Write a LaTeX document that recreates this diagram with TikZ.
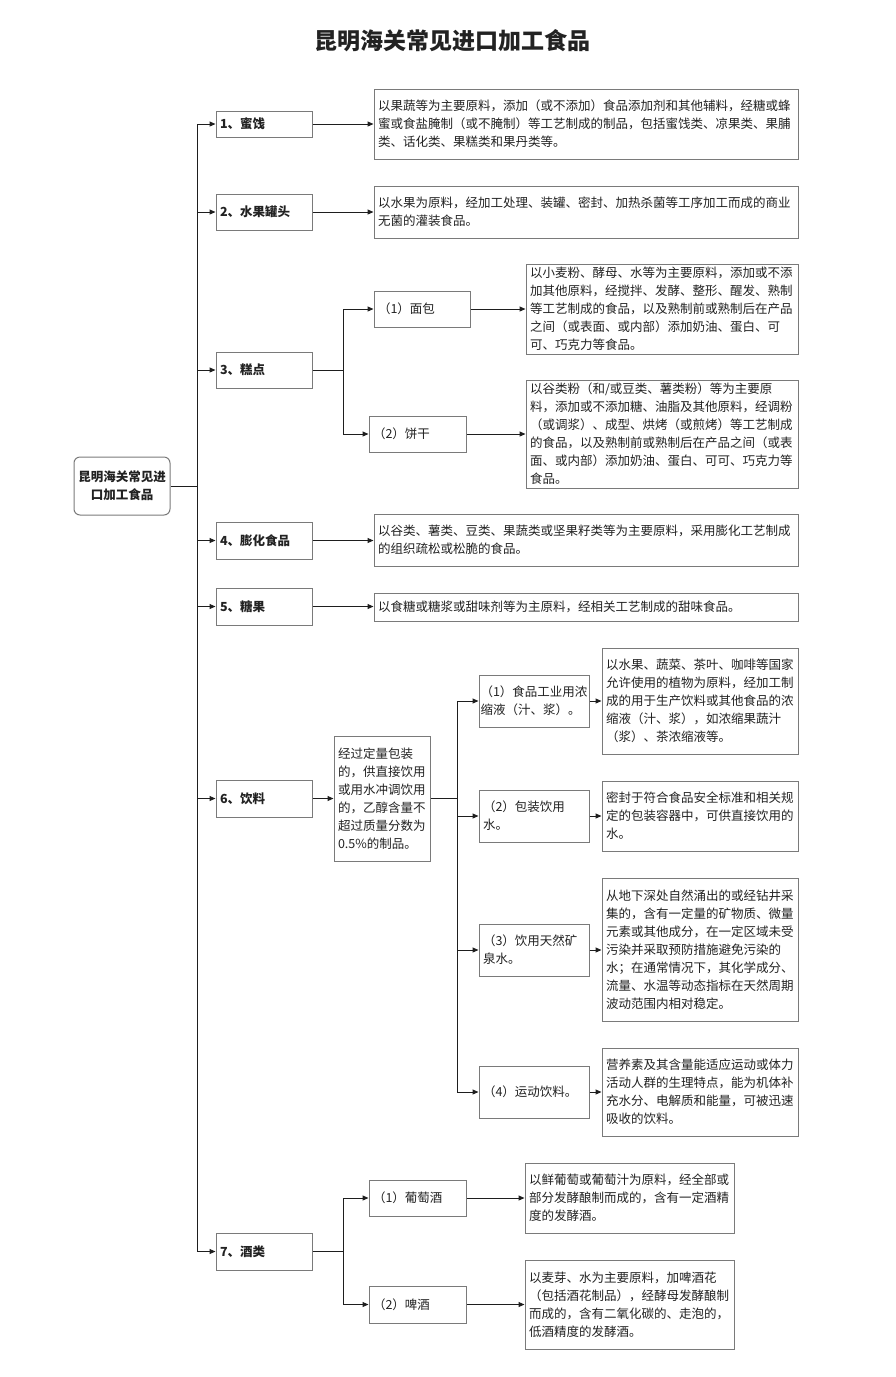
\documentclass[tikz,border=0pt]{standalone}
\usepackage{fontspec}
\setmainfont{Noto Sans CJK SC}
\usetikzlibrary{arrows.meta,calc}
\definecolor{bordergray}{HTML}{7A7A7A}
\definecolor{linecol}{HTML}{1E1E1E}
\definecolor{txtcol}{HTML}{222222}
\newcommand\placebox[7]{%
  \pgfmathsetmacro\bxw{#4-#2}%
  \pgfmathsetmacro\bxh{#5-#3}%
  \pgfmathsetmacro\bxtw{#4-#2-8}%
  \node[#6, minimum width=\bxw pt, minimum height=\bxh pt, text width=\bxtw pt]
    (#1) at ({(#2+#4)/2},{(#3+#5)/2}) {#7};}
\tikzset{
  basebox/.style={draw=bordergray, line width=1pt, inner xsep=4pt, inner ysep=0pt,
    align=left, text=txtcol, font=\fontsize{12.5}{18}\selectfont},
  labelbox/.style={basebox, font=\fontsize{12.5}{18}\selectfont\bfseries},
  descbox/.style={basebox},
  subbox/.style={basebox},
  subboxn/.style={basebox, inner xsep=3pt},
  rootbox/.style={draw=bordergray, line width=1pt, rounded corners=6pt, align=center,
    text=txtcol, font=\fontsize{12.5}{18}\selectfont\bfseries, inner sep=0pt},
  conn/.style={draw=linecol, line width=1pt},
  arr/.style={conn, -{Triangle[length=6pt,width=5pt]}}
}
\begin{document}
\begin{tikzpicture}[x=1pt,y=-1pt]
\useasboundingbox[fill=white] (0,0) rectangle (895,1377);

\node[font=\fontsize{23}{26}\selectfont\bfseries, text=txtcol] (title) at (452,41) {昆明海关常见进口加工食品};

% root
\node[rootbox, minimum width=96pt, minimum height=58pt] (root) at (122,486) {昆明海关常见进\\口加工食品};

% level-1 boxes
\placebox{b1}{216}{111}{312}{137}{labelbox}{1、蜜饯}
\placebox{b2}{216}{194}{312}{230}{labelbox}{2、水果罐头}
\placebox{b3}{216}{352}{312}{388}{labelbox}{3、糕点}
\placebox{b4}{216}{522}{312}{559}{labelbox}{4、膨化食品}
\placebox{b5}{216}{588}{312}{625}{labelbox}{5、糖果}
\placebox{b6}{216}{780}{312}{817}{labelbox}{6、饮料}
\placebox{b7}{216}{1233}{312}{1270}{labelbox}{7、酒类}

% descriptions
\placebox{d1}{374}{89}{798}{159}{descbox}{以果蔬等为主要原料，添加（或不添加）食品添加剂和其他辅料，经糖或蜂\\蜜或食盐腌制（或不腌制）等工艺制成的制品，包括蜜饯类、凉果类、果脯\\类、话化类、果糕类和果丹类等。}
\placebox{d2}{374}{186}{798}{238}{descbox}{以水果为原料，经加工处理、装罐、密封、加热杀菌等工序加工而成的商业\\无菌的灌装食品。}
\placebox{d4}{374}{514}{798}{566}{descbox}{以谷类、薯类、豆类、果蔬类或坚果籽类等为主要原料，采用膨化工艺制成\\的组织疏松或松脆的食品。}
\placebox{d5}{374}{593}{798}{621}{descbox}{以食糖或糖浆或甜味剂等为主原料，经相关工艺制成的甜味食品。}

% 3 sub
\placebox{m1}{374}{291}{470}{327}{subbox}{（1）面包}
\placebox{m2}{369}{416}{466}{452}{subbox}{（2）饼干}
\placebox{md1}{526}{264}{798}{354}{descbox}{以小麦粉、酵母、水等为主要原料，添加或不添\\加其他原料，经搅拌、发酵、整形、醒发、熟制\\等工艺制成的食品，以及熟制前或熟制后在产品\\之间（或表面、或内部）添加奶油、蛋白、可\\可、巧克力等食品。}
\placebox{md2}{526}{380}{798}{488}{descbox}{以谷类粉（和/或豆类、薯类粉）等为主要原\\料，添加或不添加糖、油脂及其他原料，经调粉\\（或调浆）、成型、烘烤（或煎烤）等工艺制成\\的食品，以及熟制前或熟制后在产品之间（或表\\面、或内部）添加奶油、蛋白、可可、巧克力等\\食品。}

% 6 sub
\placebox{d6}{334}{736}{430}{861}{descbox}{经过定量包装\\的，供直接饮用\\或用水冲调饮用\\的，乙醇含量不\\超过质量分数为\\0.5\%的制品。}
\node[basebox, inner xsep=1.5pt, minimum width=110pt, minimum height=52pt, text width=107pt]
  (s1) at (534,701) {（1）食品工业用浓\\缩液（汁、浆）。};
\placebox{s2}{479}{790}{589}{842}{subboxn}{（2）包装饮用\\水。}
\placebox{s3}{479}{924}{589}{976}{subboxn}{（3）饮用天然矿\\泉水。}
\placebox{s4}{479}{1066}{589}{1118}{subboxn}{（4）运动饮料。}
\placebox{e1}{602}{648}{798}{754}{descbox}{以水果、蔬菜、茶叶、咖啡等国家\\允许使用的植物为原料，经加工制\\成的用于生产饮料或其他食品的浓\\缩液（汁、浆），如浓缩果蔬汁\\（浆）、茶浓缩液等。}
\placebox{e2}{602}{781}{798}{851}{descbox}{密封于符合食品安全标准和相关规\\定的包装容器中，可供直接饮用的\\水。}
\placebox{e3}{602}{878}{798}{1021}{descbox}{从地下深处自然涌出的或经钻井采\\集的，含有一定量的矿物质、微量\\元素或其他成分，在一定区域未受\\污染并采取预防措施避免污染的\\水；在通常情况下，其化学成分、\\流量、水温等动态指标在天然周期\\波动范围内相对稳定。}
\placebox{e4}{602}{1048}{798}{1136}{descbox}{营养素及其含量能适应运动或体力\\活动人群的生理特点，能为机体补\\充水分、电解质和能量，可被迅速\\吸收的饮料。}

% 7 sub
\placebox{w1}{369}{1180}{466}{1216}{subbox}{（1）葡萄酒}
\placebox{w2}{369}{1286}{466}{1323}{subbox}{（2）啤酒}
\placebox{wd1}{525}{1163}{734}{1233}{descbox}{以鲜葡萄或葡萄汁为原料，经全部或\\部分发酵酿制而成的，含有一定酒精\\度的发酵酒。}
\placebox{wd2}{525}{1260}{734}{1349}{descbox}{以麦芽、水为主要原料，加啤酒花\\（包括酒花制品），经酵母发酵酿制\\而成的，含有二氧化碳的、走泡的，\\低酒精度的发酵酒。}

% split coordinates (x positions of the vertical bars)
\coordinate (trunk) at (197,486);
\coordinate (sp3) at (343,0);
\coordinate (sp6) at (457,0);
\coordinate (sp7) at (343,0);

% main trunk
\draw[conn] (root.east) -- (root.east -| trunk);
\draw[conn] (trunk |- b1.west) -- (trunk |- b7.west);
\foreach \b in {b1,b2,b3,b4,b5,b6,b7}
  \draw[arr] (trunk |- \b.west) -- (\b.west);

% level-1 to descriptions
\draw[arr] (b1.east) -- (b1.east -| d1.west);
\draw[arr] (b2.east) -- (b2.east -| d2.west);
\draw[arr] (b4.east) -- (b4.east -| d4.west);
\draw[arr] (b5.east) -- (b5.east -| d5.west);

% 3
\draw[conn] (b3.east) -- (b3.east -| sp3);
\draw[conn] (sp3 |- m1.west) -- (sp3 |- m2.west);
\draw[arr] (sp3 |- m1.west) -- (m1.west);
\draw[arr] (sp3 |- m2.west) -- (m2.west);
\draw[arr] (m1.east) -- (m1.east -| md1.west);
\draw[arr] (m2.east) -- (m2.east -| md2.west);

% 6
\draw[arr] (b6.east) -- (b6.east -| d6.west);
\draw[conn] (d6.east) -- (d6.east -| sp6);
\draw[conn] (sp6 |- s1.west) -- (sp6 |- s4.west);
\foreach \s/\e in {s1/e1,s2/e2,s3/e3,s4/e4}{
  \draw[arr] (sp6 |- \s.west) -- (\s.west);
  \draw[arr] (\s.east) -- (\s.east -| \e.west);
}

% 7
\draw[conn] (b7.east) -- (b7.east -| sp7);
\draw[conn] (sp7 |- w1.west) -- (sp7 |- w2.west);
\draw[arr] (sp7 |- w1.west) -- (w1.west);
\draw[arr] (sp7 |- w2.west) -- (w2.west);
\draw[arr] (w1.east) -- (w1.east -| wd1.west);
\draw[arr] (w2.east) -- (w2.east -| wd2.west);
\end{tikzpicture}
\end{document}
